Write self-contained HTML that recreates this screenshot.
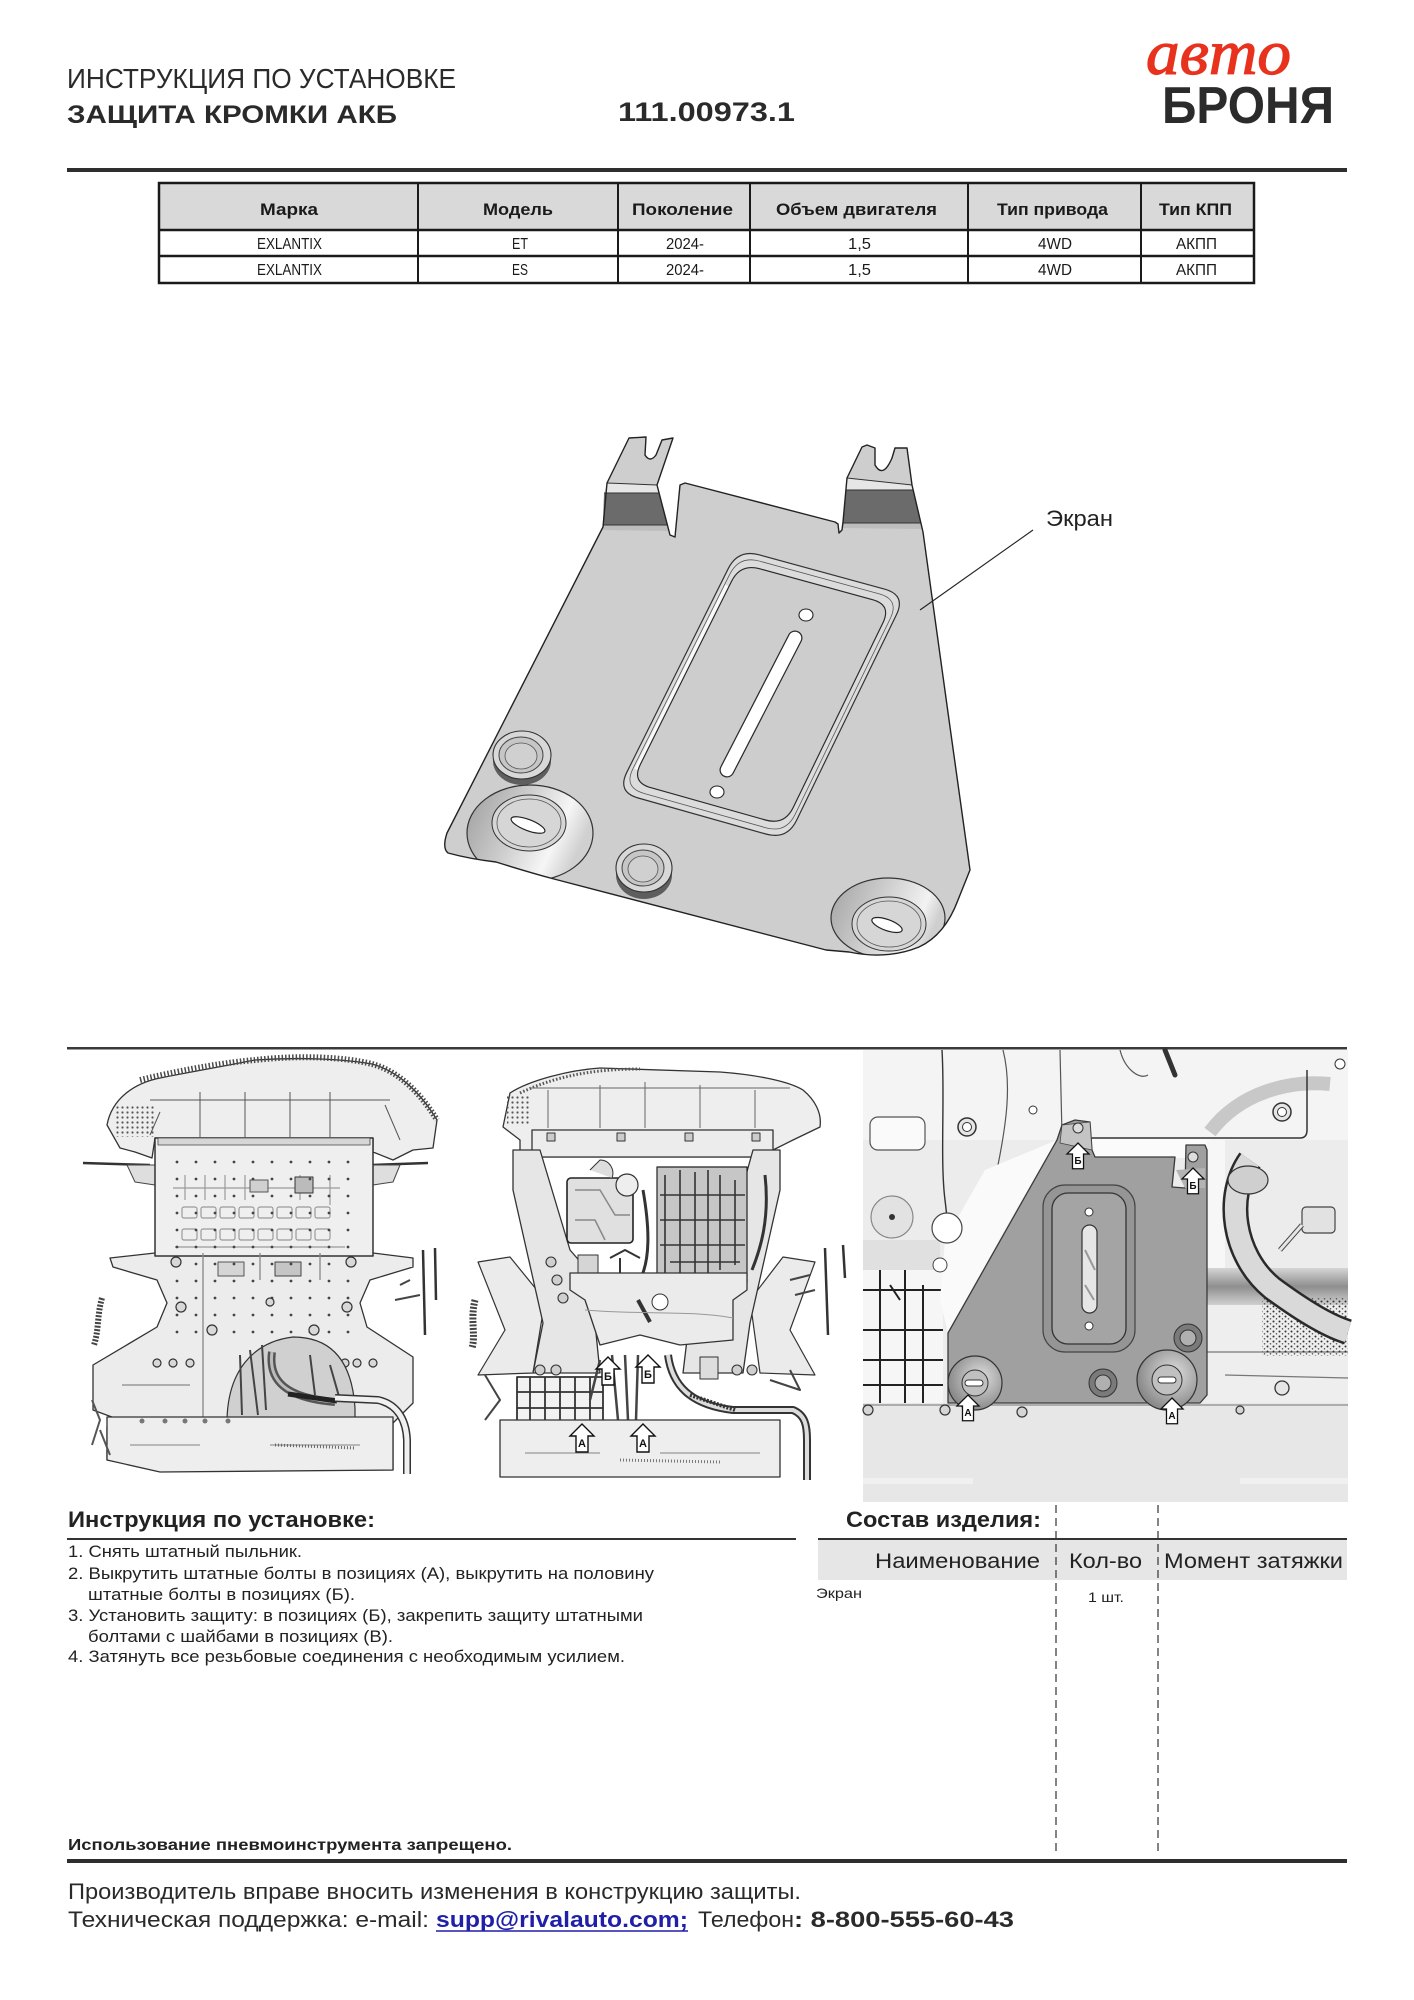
<!DOCTYPE html>
<html><head><meta charset="utf-8">
<style>
html,body{margin:0;padding:0;background:#fff;}
svg{display:block;}
text{font-family:"Liberation Sans","DejaVu Sans",sans-serif;}
</style></head><body>
<svg width="1414" height="2000" viewBox="0 0 1414 2000" xmlns="http://www.w3.org/2000/svg">
<defs>
<linearGradient id="lugL" x1="0" y1="0" x2="1" y2="0.35"><stop offset="0" stop-color="#9c9c9c"/><stop offset="0.45" stop-color="#cbcbcb"/><stop offset="0.8" stop-color="#f6f6f6"/><stop offset="1" stop-color="#d0d0d0"/></linearGradient>
<linearGradient id="lugR" x1="0" y1="0" x2="1" y2="0.3"><stop offset="0" stop-color="#a2a2a2"/><stop offset="0.5" stop-color="#d0d0d0"/><stop offset="0.85" stop-color="#f2f2f2"/><stop offset="1" stop-color="#cfcfcf"/></linearGradient>
<linearGradient id="bandG" x1="0" y1="0" x2="0" y2="1"><stop offset="0" stop-color="#d5d5d5"/><stop offset="0.5" stop-color="#8e8e8e"/><stop offset="1" stop-color="#d0d0d0"/></linearGradient>
<radialGradient id="lugP" cx="0.6" cy="0.4" r="0.6"><stop offset="0" stop-color="#e0e0e0"/><stop offset="1" stop-color="#8a8a8a"/></radialGradient>
<pattern id="dots5" width="5" height="5" patternUnits="userSpaceOnUse"><circle cx="2.5" cy="2.5" r="1.1" fill="#555"/></pattern>
<pattern id="dots19" width="19" height="17" patternUnits="userSpaceOnUse"><circle cx="6" cy="6" r="1.4" fill="#444"/></pattern>
<pattern id="speck" width="6" height="5" patternUnits="userSpaceOnUse"><circle cx="1.5" cy="1.5" r="1" fill="#333"/><circle cx="4.5" cy="3.8" r="0.8" fill="#555"/></pattern>
<clipPath id="plateClip"><path d="M603,527 L607,483 L629,438 L646,437 L645,455 Q650,463 656,455 L662,440 L673,438 L657,485 L670,535 L675,537 L680,485 L685,483 L835,522 L838,524 L839,533 L842,530 L843,522 L847,478 L862,447 L867,445 L875,448 L875,465 Q883,479 892,458 L895,448 L907,448 L912,485 L923,532 L950,727 L970,870 L958,900 Q945,935 919,947 Q887,960 849,952 L826,950 L554,879 Q528,872 496,862 Q470,859 448,853 Q442,848 447,833 Z"/></clipPath>
<g id="arrowA"><path d="M0,0 L12,12 L6,12 L6,28 L-6,28 L-6,12 L-12,12 Z" fill="#fff" stroke="#111" stroke-width="1.4" stroke-linejoin="miter"/></g>
</defs>

<!-- HEADER -->
<text x="67" y="88" font-size="28" fill="#2a2a2a" textLength="389" lengthAdjust="spacingAndGlyphs">ИНСТРУКЦИЯ ПО УСТАНОВКЕ</text>
<text x="67" y="123" font-size="25" font-weight="bold" fill="#2a2a2a" textLength="330" lengthAdjust="spacingAndGlyphs">ЗАЩИТА КРОМКИ АКБ</text>
<text x="618" y="121" font-size="27" font-weight="bold" fill="#2a2a2a" textLength="177" lengthAdjust="spacingAndGlyphs">111.00973.1</text>
<text x="1146" y="74" font-size="64" fill="#e8321e" stroke="#e8321e" stroke-width="1.2" textLength="145" lengthAdjust="spacingAndGlyphs" style="font-family:'Liberation Serif',serif;font-style:italic">авто</text>
<text x="1162" y="123" font-size="52" font-weight="bold" fill="#2b2b2b" textLength="172" lengthAdjust="spacingAndGlyphs">БРОНЯ</text>
<rect x="67" y="168" width="1280" height="4" fill="#2e2e2e"/>

<!-- TABLE -->
<rect x="159" y="183" width="1095" height="47" fill="#d9d9d9"/>
<rect x="159" y="183" width="1095" height="100" fill="none" stroke="#1a1a1a" stroke-width="2.5"/>
<line x1="159" y1="230" x2="1254" y2="230" stroke="#1a1a1a" stroke-width="2.5"/>
<line x1="159" y1="256" x2="1254" y2="256" stroke="#1a1a1a" stroke-width="2.5"/>
<g stroke="#1a1a1a" stroke-width="2">
<line x1="418" y1="183" x2="418" y2="283"/><line x1="618" y1="183" x2="618" y2="283"/><line x1="750" y1="183" x2="750" y2="283"/><line x1="968" y1="183" x2="968" y2="283"/><line x1="1141" y1="183" x2="1141" y2="283"/>
</g>
<g font-size="17" font-weight="bold" fill="#1a1a1a">
<text x="260" y="215" textLength="58" lengthAdjust="spacingAndGlyphs">Марка</text>
<text x="483" y="215" textLength="70" lengthAdjust="spacingAndGlyphs">Модель</text>
<text x="632" y="215" textLength="101" lengthAdjust="spacingAndGlyphs">Поколение</text>
<text x="776" y="215" textLength="161" lengthAdjust="spacingAndGlyphs">Объем двигателя</text>
<text x="997" y="215" textLength="111" lengthAdjust="spacingAndGlyphs">Тип привода</text>
<text x="1159" y="215" textLength="73" lengthAdjust="spacingAndGlyphs">Тип КПП</text>
</g>
<g font-size="16" fill="#1a1a1a">
<text x="257" y="249" textLength="65" lengthAdjust="spacingAndGlyphs">EXLANTIX</text>
<text x="512" y="249" textLength="16" lengthAdjust="spacingAndGlyphs">ET</text>
<text x="666" y="249" textLength="38" lengthAdjust="spacingAndGlyphs">2024-</text>
<text x="848" y="249" textLength="23" lengthAdjust="spacingAndGlyphs">1,5</text>
<text x="1038" y="249" textLength="34" lengthAdjust="spacingAndGlyphs">4WD</text>
<text x="1176" y="249" textLength="41" lengthAdjust="spacingAndGlyphs">АКПП</text>
<text x="257" y="275" textLength="65" lengthAdjust="spacingAndGlyphs">EXLANTIX</text>
<text x="512" y="275" textLength="16" lengthAdjust="spacingAndGlyphs">ES</text>
<text x="666" y="275" textLength="38" lengthAdjust="spacingAndGlyphs">2024-</text>
<text x="848" y="275" textLength="23" lengthAdjust="spacingAndGlyphs">1,5</text>
<text x="1038" y="275" textLength="34" lengthAdjust="spacingAndGlyphs">4WD</text>
<text x="1176" y="275" textLength="41" lengthAdjust="spacingAndGlyphs">АКПП</text>
</g>

<!-- PART DRAWING -->
<g stroke-linejoin="round">
<path d="M603,527 L607,483 L629,438 L646,437 L645,455 Q650,463 656,455 L662,440 L673,438 L657,485 L670,535 L675,537 L680,485 L685,483 L835,522 L838,524 L839,533 L842,530 L843,522 L847,478 L862,447 L867,445 L875,448 L875,465 Q883,479 892,458 L895,448 L907,448 L912,485 L923,532 L950,727 L970,870 L958,900 Q945,935 919,947 Q887,960 849,952 L826,950 L554,879 Q528,872 496,862 Q470,859 448,853 Q442,848 447,833 Z" fill="#cecece"/>
<path d="M607,483 L657,485 L659,493 L604,493 Z" fill="#e6e6e6"/>
<path d="M604,493 L659,493 L667,525 L603,525 Z" fill="#6b6b6b"/>
<path d="M603,525 L667,525 L669,531 L603,530 Z" fill="#bdbdbd"/>
<path d="M847,478 L912,485 L913,490 L846,490 Z" fill="#e6e6e6"/>
<path d="M846,490 L913,490 L921,523 L843,523 Z" fill="#6b6b6b"/>
<path d="M843,523 L921,523 L922,529 L843,528 Z" fill="#bdbdbd"/>
<g stroke="#333" stroke-width="1" fill="none">
<path d="M607,483 L657,485 M604,493 L659,493 M603,525 L667,525"/>
<path d="M847,478 L912,485 M846,490 L913,490 M843,523 L921,523"/>
</g>
<g clip-path="url(#plateClip)">
<ellipse cx="530" cy="833" rx="63" ry="48" fill="url(#lugL)" stroke="#333" stroke-width="1.2"/>
<ellipse cx="888" cy="918" rx="57" ry="40" fill="url(#lugR)" stroke="#333" stroke-width="1.2"/>
</g>
<ellipse cx="529" cy="823" rx="37" ry="28" fill="#d6d6d6" stroke="#333" stroke-width="1"/>
<ellipse cx="529" cy="823" rx="32" ry="24" fill="none" stroke="#555" stroke-width="0.8"/>
<ellipse cx="528" cy="825" rx="18" ry="5.5" transform="rotate(21 528 825)" fill="#fff" stroke="#222" stroke-width="1.2"/>
<ellipse cx="889" cy="924" rx="37" ry="27" fill="#d6d6d6" stroke="#333" stroke-width="1"/>
<ellipse cx="889" cy="924" rx="32" ry="23" fill="none" stroke="#555" stroke-width="0.8"/>
<ellipse cx="887" cy="925" rx="16" ry="5.5" transform="rotate(20 887 925)" fill="#fff" stroke="#222" stroke-width="1.2"/>
<ellipse cx="522" cy="761" rx="29" ry="24" fill="#5e5e5e"/>
<ellipse cx="522" cy="755" rx="29" ry="24" fill="#d8d8d8" stroke="#333" stroke-width="1.1"/>
<ellipse cx="521" cy="755" rx="22" ry="18" fill="#c6c6c6" stroke="#444" stroke-width="1"/>
<ellipse cx="521" cy="756" rx="16" ry="13" fill="#d0d0d0" stroke="#555" stroke-width="0.8"/>
<ellipse cx="644" cy="875" rx="28" ry="24" fill="#5e5e5e"/>
<ellipse cx="644" cy="868" rx="28" ry="24" fill="#d8d8d8" stroke="#333" stroke-width="1.1"/>
<ellipse cx="643" cy="868" rx="21" ry="18" fill="#c6c6c6" stroke="#444" stroke-width="1"/>
<ellipse cx="643" cy="869" rx="15" ry="13" fill="#d0d0d0" stroke="#555" stroke-width="0.8"/>
<path d="M759.2,554.8 L884.8,589.2 Q906,595 896.4,614.8 L796.6,820.2 Q787,840 765.8,834 L638.2,798 Q617,792 626.8,772.3 L728.2,568.7 Q738,549 759.2,554.8 Z" fill="#dcdcdc" stroke="#333" stroke-width="1.2"/>
<path d="M759.2,554.8 L884.8,589.2 Q906,595 896.4,614.8 L796.6,820.2 Q787,840 765.8,834 L638.2,798 Q617,792 626.8,772.3 L728.2,568.7 Q738,549 759.2,554.8 Z" transform="translate(762,694) scale(0.955) translate(-762,-694)" fill="none" stroke="#555" stroke-width="0.8"/>
<path d="M637,770 L728,586" stroke="#fafafa" stroke-width="6" fill="none"/>
<path d="M759.2,554.8 L884.8,589.2 Q906,595 896.4,614.8 L796.6,820.2 Q787,840 765.8,834 L638.2,798 Q617,792 626.8,772.3 L728.2,568.7 Q738,549 759.2,554.8 Z" transform="translate(762,694) scale(0.9) translate(-762,-694)" fill="#cdcdcd" stroke="#2a2a2a" stroke-width="1.3"/>
<line x1="795" y1="638" x2="727" y2="770" stroke="#2a2a2a" stroke-width="15" stroke-linecap="round"/>
<line x1="795" y1="638" x2="727" y2="770" stroke="#fff" stroke-width="12.5" stroke-linecap="round"/>
<ellipse cx="806" cy="615" rx="7" ry="6" fill="#fff" stroke="#222" stroke-width="1.1"/>
<ellipse cx="717" cy="792" rx="7" ry="6" fill="#fff" stroke="#222" stroke-width="1.1"/>
<path d="M603,527 L607,483 L629,438 L646,437 L645,455 Q650,463 656,455 L662,440 L673,438 L657,485 L670,535 L675,537 L680,485 L685,483 L835,522 L838,524 L839,533 L842,530 L843,522 L847,478 L862,447 L867,445 L875,448 L875,465 Q883,479 892,458 L895,448 L907,448 L912,485 L923,532 L950,727 L970,870 L958,900 Q945,935 919,947 Q887,960 849,952 L826,950 L554,879 Q528,872 496,862 Q470,859 448,853 Q442,848 447,833 Z" fill="none" stroke="#222" stroke-width="1.4"/>
</g>
<line x1="920" y1="610" x2="1033" y2="530" stroke="#222" stroke-width="1.1"/>
<text x="1046" y="526" font-size="22" fill="#222" textLength="67" lengthAdjust="spacingAndGlyphs">Экран</text>

<!-- PHOTO SEPARATOR -->
<rect x="67" y="1047" width="1280" height="2.5" fill="#3a3a3a"/>

<!-- LEFT PHOTO -->
<g stroke-linejoin="round">
<path d="M107,1125 C112,1098 135,1083 160,1078 C190,1072 225,1066 255,1060 C300,1057 345,1059 372,1064 C398,1071 420,1092 437,1120 L433,1148 L413,1150 L393,1160 L373,1152 L373,1138 L155,1138 L152,1158 L135,1152 L120,1148 Z" fill="#eeeeee" stroke="#333" stroke-width="1.3"/>
<path d="M140,1080 C190,1068 230,1062 255,1060 C300,1055 345,1057 372,1064 C398,1071 420,1092 437,1120" fill="none" stroke="#4a4a4a" stroke-width="6" stroke-dasharray="1.5 2"/>
<path d="M150,1100 L390,1100 M200,1092 L200,1137 M245,1092 L245,1137 M290,1092 L290,1137 M330,1092 L330,1137 M160,1112 L150,1135 M385,1105 L400,1140" stroke="#555" stroke-width="1" fill="none"/>
<rect x="115" y="1105" width="40" height="32" fill="url(#dots5)"/>
<path d="M83,1163 L150,1165 M372,1165 L428,1163" stroke="#333" stroke-width="2.5"/>
<path d="M127,1165 L155,1165 L155,1185 L135,1182 Z M373,1165 L400,1165 L393,1182 L373,1185 Z" fill="#dedede" stroke="#444" stroke-width="1"/>
<path d="M155,1253 L110,1258 L113,1267 L157,1280 L167,1303 L157,1327 L93,1365 L93,1410 L120,1420 L107,1427 L107,1460 L160,1470 L393,1470 L393,1423 L413,1403 L413,1357 L367,1327 L360,1303 L370,1280 L413,1267 L413,1258 L373,1253 Z" fill="#ececec" stroke="#333" stroke-width="1.3"/>
<rect x="155" y="1138" width="218" height="118" fill="#efefef" stroke="#333" stroke-width="1.5"/>
<rect x="158" y="1138" width="212" height="7" fill="#d6d6d6" stroke="#444" stroke-width="0.8"/>
<g fill="none" stroke="#9a9a9a" stroke-width="1.2">
<path d="M173,1188 L340,1188 M185,1175 L185,1200 M205,1175 L205,1200 M225,1175 L225,1200 M245,1175 L245,1200 M300,1175 L300,1200 M330,1175 L330,1205"/>
<rect x="182" y="1207" width="15" height="11" rx="2"/><rect x="201" y="1207" width="15" height="11" rx="2"/><rect x="220" y="1207" width="15" height="11" rx="2"/><rect x="239" y="1207" width="15" height="11" rx="2"/><rect x="258" y="1207" width="15" height="11" rx="2"/><rect x="277" y="1207" width="15" height="11" rx="2"/><rect x="296" y="1207" width="15" height="11" rx="2"/><rect x="315" y="1207" width="15" height="11" rx="2"/>
<rect x="182" y="1229" width="15" height="11" rx="2"/><rect x="201" y="1229" width="15" height="11" rx="2"/><rect x="220" y="1229" width="15" height="11" rx="2"/><rect x="239" y="1229" width="15" height="11" rx="2"/><rect x="258" y="1229" width="15" height="11" rx="2"/><rect x="277" y="1229" width="15" height="11" rx="2"/><rect x="296" y="1229" width="15" height="11" rx="2"/><rect x="315" y="1229" width="15" height="11" rx="2"/>
<path d="M175,1247 L345,1247"/>
</g>
<rect x="250" y="1180" width="18" height="12" fill="#d0d0d0" stroke="#555"/>
<rect x="295" y="1177" width="18" height="16" fill="#bbb" stroke="#333"/>
<rect x="218" y="1262" width="26" height="14" fill="#d5d5d5" stroke="#555"/>
<rect x="275" y="1262" width="26" height="14" fill="#c5c5c5" stroke="#444"/>
<rect x="165" y="1150" width="200" height="185" fill="url(#dots19)"/>
<path d="M203,1253 L203,1420 M260,1253 L260,1280 M320,1253 L320,1280 M122,1385 L190,1385" stroke="#888" stroke-width="1.3" fill="none"/>
<g fill="#d8d8d8" stroke="#333" stroke-width="1.2">
<circle cx="176" cy="1262" r="5"/><circle cx="351" cy="1262" r="5"/><circle cx="181" cy="1307" r="5"/><circle cx="347" cy="1307" r="5"/><circle cx="212" cy="1330" r="5"/><circle cx="314" cy="1330" r="5"/><circle cx="270" cy="1302" r="4"/>
<circle cx="157" cy="1363" r="4"/><circle cx="173" cy="1363" r="4"/><circle cx="190" cy="1363" r="4"/><circle cx="345" cy="1363" r="4"/><circle cx="357" cy="1363" r="4"/><circle cx="373" cy="1363" r="4"/>
</g>
<path d="M227,1420 C228,1372 252,1342 293,1337 C332,1337 352,1362 355,1408 L355,1420 Z" fill="#d0d0d0" stroke="#333" stroke-width="1.2"/>
<path d="M272,1352 C268,1380 285,1398 335,1402" stroke="#555" stroke-width="8" fill="none"/>
<path d="M272,1352 C268,1380 285,1398 335,1402" stroke="#bbb" stroke-width="3" fill="none"/>
<path d="M240,1355 L242,1415 M250,1350 L258,1415 M310,1355 L315,1395 M330,1365 L340,1400 M262,1345 L266,1410" stroke="#444" stroke-width="2"/>
<path d="M288,1394 L337,1401" stroke="#222" stroke-width="5"/>
<path d="M107,1417 L393,1417 L393,1470 L160,1472 L107,1460 Z" fill="#eeeeee" stroke="#333" stroke-width="1.3"/>
<path d="M130,1445 L200,1445 M270,1445 L360,1445" stroke="#999" stroke-width="1.2"/>
<path d="M275,1445 L355,1448" stroke="#666" stroke-width="3" stroke-dasharray="1 2"/>
<g fill="#777"><circle cx="142" cy="1421" r="2.5"/><circle cx="165" cy="1421" r="2.5"/><circle cx="185" cy="1421" r="2.5"/><circle cx="205" cy="1421" r="2.5"/><circle cx="228" cy="1421" r="2.5"/></g>
<path d="M335,1398 L378,1400 C396,1404 406,1418 407,1440 L407,1474" fill="none" stroke="#333" stroke-width="8"/>
<path d="M335,1398 L378,1400 C396,1404 406,1418 407,1440 L407,1474" fill="none" stroke="#f0f0f0" stroke-width="5"/>
<path d="M423,1250 L425,1335 M435,1248 L436,1300" stroke="#333" stroke-width="2.5"/>
<path d="M395,1300 L420,1295 M400,1285 L410,1280" stroke="#444" stroke-width="2"/>
<path d="M102,1298 C97,1315 99,1330 94,1345" stroke="#444" stroke-width="6" stroke-dasharray="2 1.5" fill="none"/>
<path d="M92,1400 L100,1420 L92,1445 M100,1430 L110,1455" stroke="#555" stroke-width="2" fill="none"/>
</g>

<!-- MIDDLE PHOTO -->
<g stroke-linejoin="round">
<path d="M510,1093 C530,1080 570,1070 600,1068 L720,1072 C760,1075 790,1082 803,1090 C815,1100 822,1113 820,1127 L793,1140 L773,1150 L773,1175 L760,1172 L758,1157 L535,1157 L533,1172 L520,1175 L520,1140 L503,1127 Z" fill="#eeeeee" stroke="#333" stroke-width="1.3"/>
<path d="M520,1093 C560,1074 600,1069 640,1069" stroke="#555" stroke-width="3" stroke-dasharray="1.5 2" fill="none"/>
<rect x="507" y="1095" width="22" height="30" fill="url(#dots5)"/>
<path d="M548,1090 L548,1128 M600,1085 L600,1128 M645,1082 L645,1128 M700,1085 L700,1128 M755,1090 L755,1128 M530,1088 L790,1088" stroke="#666" stroke-width="1" fill="none"/>
<rect x="532" y="1130" width="241" height="27" fill="#ececec" stroke="#333" stroke-width="1.3"/>
<g fill="#ccc" stroke="#333"><rect x="547" y="1133" width="8" height="8"/><rect x="617" y="1133" width="8" height="8"/><rect x="685" y="1133" width="8" height="8"/><rect x="752" y="1133" width="8" height="8"/></g>
<path d="M478,1262 L510,1257 L545,1300 L533,1373 L478,1375 L505,1330 Z" fill="#ebebeb" stroke="#333" stroke-width="1.2"/>
<path d="M815,1262 L783,1257 L750,1300 L760,1373 L815,1375 L790,1330 Z" fill="#ebebeb" stroke="#333" stroke-width="1.2"/>
<path d="M513,1150 L540,1150 L570,1250 L590,1273 L600,1373 L533,1373 L543,1323 L513,1190 Z" fill="#e6e6e6" stroke="#333" stroke-width="1.3"/>
<path d="M753,1150 L780,1150 L780,1190 L750,1323 L743,1373 L683,1373 L695,1273 L725,1250 Z" fill="#e6e6e6" stroke="#333" stroke-width="1.3"/>
<g fill="#cfcfcf" stroke="#333" stroke-width="1.1"><circle cx="551" cy="1262" r="5"/><circle cx="557" cy="1280" r="5"/><circle cx="563" cy="1298" r="5"/><circle cx="737" cy="1262" r="5"/><circle cx="731" cy="1280" r="5"/><circle cx="725" cy="1298" r="5"/><circle cx="540" cy="1370" r="5"/><circle cx="556" cy="1370" r="5"/><circle cx="737" cy="1370" r="5"/><circle cx="752" cy="1370" r="5"/></g>
<rect x="567" y="1178" width="66" height="65" rx="4" fill="#e0e0e0" stroke="#222" stroke-width="1.6"/>
<path d="M575,1190 L600,1190 L615,1215 L630,1215 M575,1220 L595,1220 L605,1240" stroke="#888" stroke-width="1.5" fill="none"/>
<circle cx="627" cy="1185" r="11" fill="#eee" stroke="#333" stroke-width="1.2"/>
<path d="M590,1170 L600,1160 C610,1160 615,1170 612,1178" fill="#ddd" stroke="#333"/>
<rect x="657" y="1167" width="90" height="116" fill="#c6c6c6" stroke="#222" stroke-width="1.2"/>
<path d="M665,1175 L665,1275 M680,1170 L680,1280 M695,1172 L695,1278 M708,1170 L708,1280 M720,1175 L720,1270 M735,1180 L735,1265 M660,1195 L745,1195 M660,1220 L745,1220 M660,1245 L745,1245 M670,1262 L740,1262" stroke="#333" stroke-width="1.6"/>
<path d="M643,1190 C650,1230 650,1260 640,1280 M765,1175 C770,1220 760,1250 752,1270" stroke="#333" stroke-width="3" fill="none"/>
<rect x="578" y="1255" width="20" height="18" fill="#d5d5d5" stroke="#333"/>
<path d="M610,1258 L625,1250 L640,1258 M620,1258 L620,1280" stroke="#333" stroke-width="2" fill="none"/>
<path d="M570,1273 L747,1273 L747,1290 L733,1300 L733,1340 L680,1345 L640,1335 L600,1345 L585,1300 L570,1290 Z" fill="#ebebeb" stroke="#333" stroke-width="1.3"/>
<circle cx="660" cy="1302" r="8" fill="#fff" stroke="#333"/>
<path d="M638,1300 L650,1322" stroke="#333" stroke-width="4"/>
<path d="M585,1310 C640,1315 690,1310 733,1318" stroke="#999" fill="none"/>
<g stroke="#333" stroke-width="1.8" fill="#f2f2f2"><rect x="517" y="1377" width="86" height="48"/></g>
<path d="M530,1377 L530,1425 M545,1377 L545,1425 M560,1377 L560,1425 M575,1377 L575,1425 M590,1377 L590,1425 M517,1392 L603,1392 M517,1408 L603,1408" stroke="#333" stroke-width="1.8"/>
<path d="M612,1355 L618,1420 M625,1355 L628,1420 M638,1355 L636,1420 M600,1360 L590,1400" stroke="#444" stroke-width="2.5"/>
<path d="M668,1355 C672,1385 690,1405 733,1410 L793,1410 C805,1415 807,1425 807,1440 L807,1480" stroke="#333" stroke-width="8" fill="none"/>
<path d="M668,1355 C672,1385 690,1405 733,1410 L793,1410 C805,1415 807,1425 807,1440 L807,1480" stroke="#dcdcdc" stroke-width="4" fill="none"/>
<path d="M690,1395 L735,1410" stroke="#333" stroke-width="4" stroke-dasharray="2 1.5"/>
<rect x="700" y="1357" width="18" height="22" fill="#ddd" stroke="#333"/>
<path d="M485,1375 L500,1400 L485,1420 M770,1380 L800,1390 L790,1370" stroke="#444" stroke-width="2" fill="none"/>
<path d="M500,1420 L780,1420 L780,1477 L500,1477 Z" fill="#eeeeee" stroke="#333" stroke-width="1.3"/>
<path d="M525,1453 L600,1453 M660,1453 L760,1453" stroke="#999" stroke-width="1.2"/>
<path d="M620,1460 L720,1462" stroke="#777" stroke-width="3" stroke-dasharray="1 2"/>
<path d="M475,1300 C470,1320 476,1335 472,1348" stroke="#444" stroke-width="7" stroke-dasharray="2 1.5" fill="none"/>
<path d="M825,1248 L828,1335 M843,1245 L845,1278" stroke="#333" stroke-width="2.5"/>
<path d="M790,1280 L810,1275 M795,1295 L815,1290" stroke="#444" stroke-width="2"/>
<use href="#arrowA" x="608" y="1357"/>
<use href="#arrowA" x="648" y="1355"/>
<use href="#arrowA" x="582" y="1424"/>
<use href="#arrowA" x="643" y="1424"/>
<g font-size="11" font-weight="bold" fill="#111" text-anchor="middle">
<text x="608" y="1380">Б</text><text x="648" y="1378">Б</text><text x="582" y="1447">А</text><text x="643" y="1447">А</text>
</g>
</g>

<!-- RIGHT PHOTO -->
<g stroke-linejoin="round">
<rect x="863" y="1050" width="485" height="452" fill="#ececec"/>
<rect x="863" y="1050" width="485" height="90" fill="#f4f4f4"/>
<path d="M1210,1132 C1240,1092 1290,1080 1330,1084" stroke="#c8c8c8" stroke-width="14" fill="none"/>
<path d="M1063,1138 L1300,1138 Q1307,1138 1307,1130 L1307,1070" stroke="#333" stroke-width="1.5" fill="none"/>
<path d="M942,1050 C945,1100 940,1160 945,1200 C950,1240 950,1270 955,1290" stroke="#333" stroke-width="1.4" fill="none"/>
<path d="M1003,1050 C1012,1085 1006,1125 998,1165 M1060,1050 L1062,1135 M1120,1050 C1125,1070 1140,1080 1148,1075" stroke="#555" stroke-width="1.2" fill="none"/>
<rect x="870" y="1117" width="55" height="33" rx="8" fill="#fafafa" stroke="#555" stroke-width="1.2"/>
<circle cx="967" cy="1127" r="9" fill="#e5e5e5" stroke="#333" stroke-width="1.5"/><circle cx="967" cy="1127" r="4.5" fill="#fff" stroke="#333"/>
<circle cx="1282" cy="1112" r="9" fill="#e5e5e5" stroke="#333" stroke-width="1.5"/><circle cx="1282" cy="1112" r="4.5" fill="#fff" stroke="#333"/>
<circle cx="1033" cy="1110" r="4" fill="#fff" stroke="#333"/>
<circle cx="1340" cy="1064" r="5" fill="#fff" stroke="#333"/>
<path d="M1165,1050 L1175,1075" stroke="#333" stroke-width="5" stroke-linecap="round"/>
<circle cx="892" cy="1217" r="21" fill="#e2e2e2" stroke="#888" stroke-width="1.2"/>
<circle cx="892" cy="1217" r="3" fill="#333"/>
<path d="M863,1240 L940,1240 L940,1270 L863,1270 Z" fill="#e0e0e0"/>
<rect x="863" y="1270" width="80" height="133" fill="#f6f6f6"/>
<path d="M880,1270 L880,1403 M905,1270 L905,1403 M923,1285 L923,1403 M863,1290 L943,1290 M863,1330 L943,1330 M863,1360 L943,1360 M863,1385 L943,1385 M890,1285 L900,1300" stroke="#222" stroke-width="2" fill="none"/>
<path d="M985,1170 L1057,1140 L1010,1220 L948,1333 L940,1300 L945,1240 Z" fill="#fafafa"/>
<circle cx="947" cy="1228" r="15" fill="#fff" stroke="#444" stroke-width="1.2"/>
<circle cx="940" cy="1265" r="7" fill="#fff" stroke="#444"/>
<rect x="1065" y="1139" width="145" height="19" fill="#fbfbfb"/>
<rect x="1207" y="1140" width="18" height="260" fill="#f7f7f7"/>
<rect x="1207" y="1268" width="141" height="37" fill="url(#bandG)"/>
<rect x="1207" y="1305" width="141" height="98" fill="#eeeeee"/>
<path d="M1207,1352 L1348,1352 M1225,1375 L1348,1378" stroke="#777" stroke-width="1.2" fill="none"/>
<circle cx="1282" cy="1388" r="7" fill="#e5e5e5" stroke="#333" stroke-width="1.3"/>
<rect x="1262" y="1298" width="86" height="58" fill="url(#speck)"/>
<path d="M1250,1160 C1225,1195 1232,1255 1272,1288 C1295,1305 1325,1325 1348,1332" stroke="#2a2a2a" stroke-width="26" fill="none"/>
<path d="M1250,1160 C1225,1195 1232,1255 1272,1288 C1295,1305 1325,1325 1348,1332" stroke="#d9d9d9" stroke-width="21" fill="none"/>
<ellipse cx="1248" cy="1180" rx="20" ry="14" fill="#cfcfcf" stroke="#333" stroke-width="1.2"/>
<rect x="1302" y="1207" width="33" height="26" rx="4" fill="#e2e2e2" stroke="#444" stroke-width="1.2"/>
<path d="M1280,1250 L1302,1225" stroke="#444" stroke-width="5"/>
<path d="M1280,1250 L1302,1225" stroke="#e6e6e6" stroke-width="3"/>
<rect x="863" y="1403" width="485" height="99" fill="#e7e7e7"/>
<path d="M863,1405 L1348,1405" stroke="#9a9a9a" stroke-width="1.5"/>
<rect x="863" y="1478" width="110" height="6" fill="#f0f0f0"/>
<rect x="1240" y="1478" width="108" height="6" fill="#f0f0f0"/>
<g fill="#d5d5d5" stroke="#333" stroke-width="1.2"><circle cx="868" cy="1410" r="5"/><circle cx="945" cy="1410" r="5"/><circle cx="1022" cy="1412" r="5"/><circle cx="1240" cy="1410" r="4"/></g>
<path d="M948,1403 L948,1333 L1057,1140 L1062,1125 L1075,1120 L1090,1122 L1092,1150 L1095,1157 L1175,1157 L1172,1187 L1185,1188 L1186,1145 L1205,1145 L1207,1150 L1207,1395 L1200,1403 Z" fill="#a0a0a0" stroke="#3a3a3a" stroke-width="1.3"/>
<path d="M1062,1125 L1090,1122 L1092,1150 L1060,1143 Z" fill="#c4c4c4" stroke="#444" stroke-width="0.8"/>
<path d="M1176,1170 L1205,1168 L1205,1188 L1185,1188 Z" fill="#b4b4b4"/>
<rect x="1043" y="1185" width="92" height="167" rx="22" fill="#959595" stroke="#444" stroke-width="1.2"/>
<rect x="1052" y="1193" width="74" height="151" rx="16" fill="#a4a4a4" stroke="#333" stroke-width="1.3"/>
<rect x="1082" y="1225" width="15" height="88" rx="7.5" fill="#e6e6e6" stroke="#333" stroke-width="1.2"/>
<path d="M1085,1250 L1095,1270 M1085,1285 L1094,1300" stroke="#999" stroke-width="2"/>
<circle cx="1089" cy="1212" r="4" fill="#fff" stroke="#333"/>
<circle cx="1089" cy="1326" r="4" fill="#fff" stroke="#333"/>
<circle cx="975" cy="1383" r="27" fill="url(#lugP)" stroke="#333" stroke-width="1.2"/>
<circle cx="975" cy="1383" r="13" fill="#c0c0c0" stroke="#333"/>
<rect x="965" y="1380" width="18" height="6" rx="3" fill="#fff" stroke="#333"/>
<circle cx="1167" cy="1380" r="30" fill="url(#lugP)" stroke="#333" stroke-width="1.2"/>
<circle cx="1167" cy="1380" r="15" fill="#c0c0c0" stroke="#333"/>
<rect x="1158" y="1377" width="18" height="6" rx="3" fill="#fff" stroke="#333"/>
<circle cx="1103" cy="1383" r="14" fill="#7a7a7a" stroke="#333"/><circle cx="1103" cy="1383" r="8" fill="#b0b0b0" stroke="#333"/>
<circle cx="1188" cy="1338" r="14" fill="#7a7a7a" stroke="#333"/><circle cx="1188" cy="1338" r="8" fill="#b0b0b0" stroke="#333"/>
<circle cx="1078" cy="1128" r="5" fill="#ddd" stroke="#333"/>
<circle cx="1193" cy="1157" r="5" fill="#ddd" stroke="#333"/>
<use href="#arrowA" x="1078" y="1143" transform="translate(1078 1143) scale(0.92) translate(-1078 -1143)"/>
<use href="#arrowA" x="1193" y="1168" transform="translate(1193 1168) scale(0.92) translate(-1193 -1168)"/>
<use href="#arrowA" x="968" y="1395" transform="translate(968 1395) scale(0.92) translate(-968 -1395)"/>
<use href="#arrowA" x="1172" y="1398" transform="translate(1172 1398) scale(0.92) translate(-1172 -1398)"/>
<g font-size="10" font-weight="bold" fill="#111" text-anchor="middle">
<text x="1078" y="1164">Б</text><text x="1193" y="1189">Б</text><text x="968" y="1416">А</text><text x="1172" y="1419">А</text>
</g>
</g>

<!-- BOTTOM SECTION -->
<text x="68" y="1527" font-size="22" font-weight="bold" fill="#222" textLength="307" lengthAdjust="spacingAndGlyphs">Инструкция по установке:</text>
<rect x="67" y="1538" width="729" height="2" fill="#333"/>
<text x="846" y="1527" font-size="22" font-weight="bold" fill="#222" textLength="195" lengthAdjust="spacingAndGlyphs">Состав изделия:</text>
<rect x="818" y="1540" width="529" height="40" fill="#e6e6e6"/>
<rect x="818" y="1538" width="529" height="2" fill="#333"/>
<g font-size="21" fill="#222">
<text x="875" y="1568" textLength="165" lengthAdjust="spacingAndGlyphs">Наименование</text>
<text x="1069" y="1568" textLength="73" lengthAdjust="spacingAndGlyphs">Кол-во</text>
<text x="1164" y="1568" textLength="179" lengthAdjust="spacingAndGlyphs">Момент затяжки</text>
</g>
<line x1="1056" y1="1505" x2="1056" y2="1852" stroke="#333" stroke-width="1.2" stroke-dasharray="8 5"/>
<line x1="1158" y1="1505" x2="1158" y2="1852" stroke="#333" stroke-width="1.2" stroke-dasharray="8 5"/>
<text x="816" y="1598" font-size="14" fill="#222" textLength="46" lengthAdjust="spacingAndGlyphs">Экран</text>
<text x="1088" y="1602" font-size="14" fill="#222" textLength="36" lengthAdjust="spacingAndGlyphs">1 шт.</text>
<g font-size="17" fill="#222">
<text x="68" y="1557" textLength="234" lengthAdjust="spacingAndGlyphs">1. Снять штатный пыльник.</text>
<text x="68" y="1579" textLength="586" lengthAdjust="spacingAndGlyphs">2. Выкрутить штатные болты в позициях (А), выкрутить на половину</text>
<text x="88" y="1600" textLength="267" lengthAdjust="spacingAndGlyphs">штатные болты в позициях (Б).</text>
<text x="68" y="1621" textLength="575" lengthAdjust="spacingAndGlyphs">3. Установить защиту: в позициях (Б), закрепить защиту штатными</text>
<text x="88" y="1642" textLength="305" lengthAdjust="spacingAndGlyphs">болтами с шайбами в позициях (В).</text>
<text x="68" y="1662" textLength="557" lengthAdjust="spacingAndGlyphs">4. Затянуть все резьбовые соединения с необходимым усилием.</text>
</g>
<text x="68" y="1850" font-size="16" font-weight="bold" fill="#222" textLength="444" lengthAdjust="spacingAndGlyphs">Использование пневмоинструмента запрещено.</text>
<rect x="67" y="1859" width="1280" height="4" fill="#2e2e2e"/>
<text x="68" y="1899" font-size="22" fill="#2a2a2a" textLength="733" lengthAdjust="spacingAndGlyphs">Производитель вправе вносить изменения в конструкцию защиты.</text>
<text x="68" y="1927" font-size="22" fill="#2a2a2a" textLength="361" lengthAdjust="spacingAndGlyphs">Техническая поддержка:  e-mail:</text>
<text x="436" y="1927" font-size="22" font-weight="bold" fill="#1f1fa8" textLength="252" lengthAdjust="spacingAndGlyphs">supp@rivalauto.com;</text>
<line x1="436" y1="1931" x2="688" y2="1931" stroke="#1f1fa8" stroke-width="1.6"/>
<text x="698" y="1927" font-size="22" fill="#2a2a2a" textLength="96" lengthAdjust="spacingAndGlyphs">Телефон</text>
<text x="794" y="1927" font-size="22" font-weight="bold" fill="#2a2a2a" textLength="220" lengthAdjust="spacingAndGlyphs">: 8-800-555-60-43</text>
</svg>
</body></html>
